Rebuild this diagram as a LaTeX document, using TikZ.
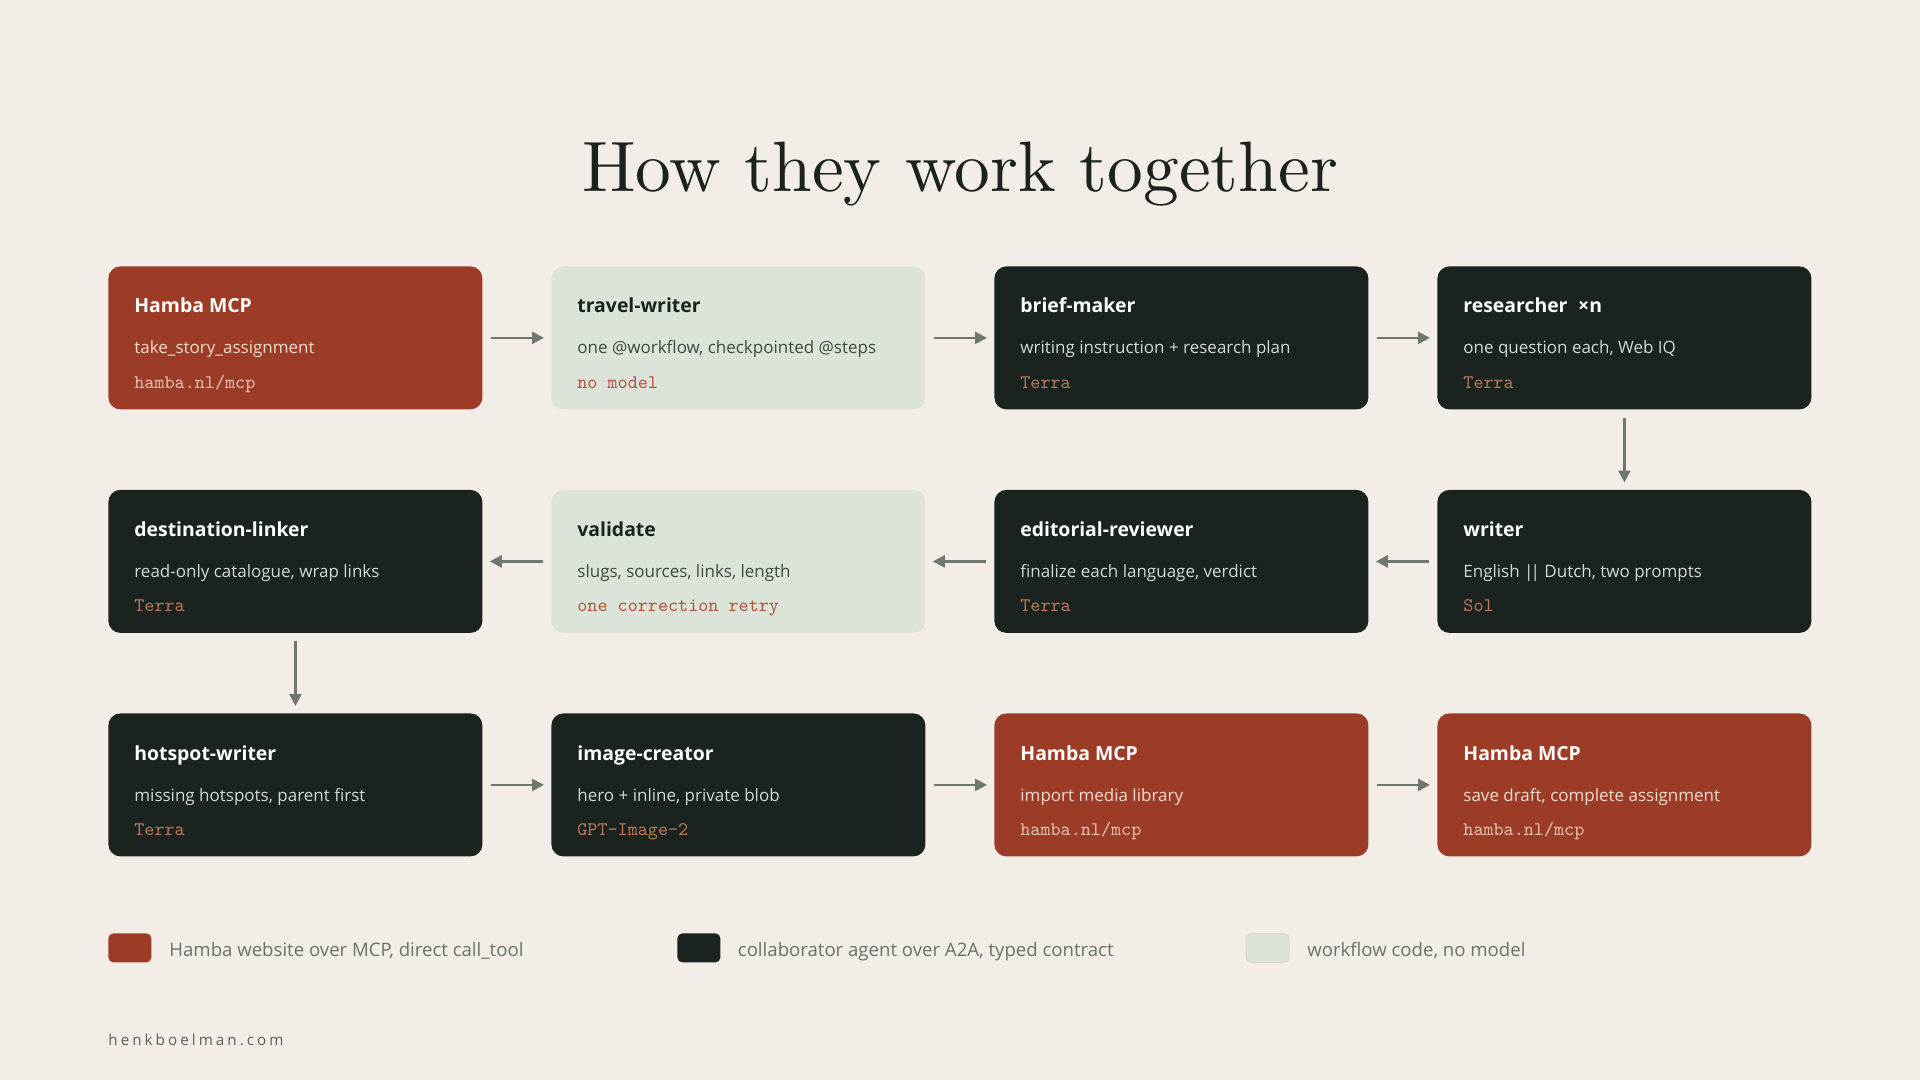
\documentclass[tikz,border=0pt]{standalone}
\usepackage{fontspec}
\newfontfamily\titlefont{lmroman10-regular.otf}
\newfontfamily\boxfont{Open Sans}
\newfontfamily\footfont[LetterSpace=20]{Open Sans}
\usetikzlibrary{arrows.meta,positioning}

\definecolor{paper}{HTML}{F2EEE7}
\definecolor{ink}{HTML}{1A2320}
\definecolor{hambared}{HTML}{9C3C26}
\definecolor{agentdark}{HTML}{1A2320}
\definecolor{flowgreen}{HTML}{DCE3D9}
\definecolor{swatchedge}{HTML}{DDD8CC}
\definecolor{arrowgrey}{HTML}{6E7770}
\definecolor{keygrey}{HTML}{6B716C}
\definecolor{footgrey}{HTML}{5B625D}
\definecolor{terra}{HTML}{B97A58}
\definecolor{redsub}{HTML}{F0DCD2}
\definecolor{redcode}{HTML}{E6C3B5}
\definecolor{darksub}{HTML}{D3D8D1}
\definecolor{greensub}{HTML}{3E4A44}
\definecolor{greencode}{HTML}{B5503A}

\tikzset{
  agent/.style={rounded corners=6pt, minimum width=187pt, minimum height=71.5pt,
    inner sep=0pt, anchor=north west},
  mcp/.style={agent, fill=hambared},
  a2a/.style={agent, fill=agentdark},
  wf/.style={agent, fill=flowgreen},
  boxtitle/.style={anchor=base west, inner sep=0pt,
    font=\boxfont\bfseries\fontsize{9.7}{11}\selectfont},
  boxsub/.style={anchor=base west, inner sep=0pt,
    font=\boxfont\fontsize{8.5}{10}\selectfont},
  boxcode/.style={anchor=base west, inner sep=0pt,
    font=\ttfamily\fontsize{9.6}{11}\selectfont},
  mcptitle/.style={text=white}, mcpsub/.style={text=redsub},
  mcpcode/.style={text=redcode},
  a2atitle/.style={text=white}, a2asub/.style={text=darksub},
  a2acode/.style={text=terra},
  wftitle/.style={text=ink}, wfsub/.style={text=greensub},
  wfcode/.style={text=greencode},
  flow/.style={-{Triangle[length=6pt,width=6pt]}, line width=1.2pt,
    draw=arrowgrey, shorten <=4pt, shorten >=3.5pt},
  swatch/.style={anchor=north west, minimum width=21.5pt, minimum height=14.5pt,
    inner sep=0pt, rounded corners=2.5pt},
  keytext/.style={anchor=base west, inner sep=0pt, text=keygrey,
    font=\boxfont\fontsize{9.3}{11}\selectfont}
}

% box with three lines of text
\newcommand\agentbox[7]{%
  \node[#2] (#1) at (#3,#4) {};
  \node[boxtitle,#2title] (#1-t) at ([xshift=13pt,yshift=-23.5pt]#1.north west) {#5};
  \node[boxsub,#2sub] (#1-s) at ([xshift=13pt,yshift=-44pt]#1.north west) {#6};
  \node[boxcode,#2code] (#1-c) at ([xshift=13pt,yshift=-61pt]#1.north west) {#7};
}

\begin{document}
\begin{tikzpicture}[x=0.5pt,y=-0.5pt]
  \fill[paper] (0,0) rectangle (1920,1080);
  \useasboundingbox (0,0) rectangle (1920,1080);

  \node[anchor=base, inner sep=0pt, text=ink, font=\titlefont\fontsize{35.7}{40}\selectfont]
    (title) at (960,191.7) {How they work together};

  % row 1
  \agentbox{take}{mcp}{108}{266}{Hamba MCP}{take\_story\_assignment}{hamba.nl/mcp}
  \agentbox{travel}{wf}{551}{266}{travel-writer}{one @workflow, checkpointed @steps}{no model}
  \agentbox{brief}{a2a}{994}{266}{brief-maker}{writing instruction + research plan}{Terra}
  \agentbox{research}{a2a}{1437}{266}{researcher\hspace{0.55em}×n}{one question each, Web IQ}{Terra}
  % row 2
  \agentbox{writer}{a2a}{1437}{489.5}{writer}{English |\kern-0.17em| Dutch, two prompts}{Sol}
  \agentbox{review}{a2a}{994}{489.5}{editorial-reviewer}{finalize each language, verdict}{Terra}
  \agentbox{validate}{wf}{551}{489.5}{validate}{slugs, sources, links, length}{one correction retry}
  \agentbox{linker}{a2a}{108}{489.5}{destination-linker}{read-only catalogue, wrap links}{Terra}
  % row 3
  \agentbox{hotspot}{a2a}{108}{713}{hotspot-writer}{missing hotspots, parent first}{Terra}
  \agentbox{image}{a2a}{551}{713}{image-creator}{hero + inline, private blob}{GPT-Image-2}
  \agentbox{media}{mcp}{994}{713}{Hamba MCP}{import media library}{hamba.nl/mcp}
  \agentbox{save}{mcp}{1437}{713}{Hamba MCP}{save draft, complete assignment}{hamba.nl/mcp}

  \draw[flow] (take) -- (travel);
  \draw[flow] (travel) -- (brief);
  \draw[flow] (brief) -- (research);
  \draw[flow] (research) -- (writer);
  \draw[flow] (writer) -- (review);
  \draw[flow] (review) -- (validate);
  \draw[flow] (validate) -- (linker);
  \draw[flow] (linker) -- (hotspot);
  \draw[flow] (hotspot) -- (image);
  \draw[flow] (image) -- (media);
  \draw[flow] (media) -- (save);

  % legend
  \node[swatch, fill=hambared] (keymcp) at (108,933) {};
  \node[keytext] (keymcp-t) at (169,956) {Hamba website over MCP, direct call\_tool};
  \node[swatch, fill=agentdark] (keya2a) at (677,933) {};
  \node[keytext] (keya2a-t) at (737.5,956) {collaborator agent over A2A, typed contract};
  \node[swatch, fill=flowgreen, draw=swatchedge, line width=0.6pt] (keywf) at (1245.5,933) {};
  \node[keytext] (keywf-t) at (1307,956) {workflow code, no model};

  \node[anchor=base west, inner sep=0pt, text=footgrey,
    font=\footfont\fontsize{7.6}{9}\selectfont] (site) at (108,1045) {henkboelman.com};
\end{tikzpicture}
\end{document}
